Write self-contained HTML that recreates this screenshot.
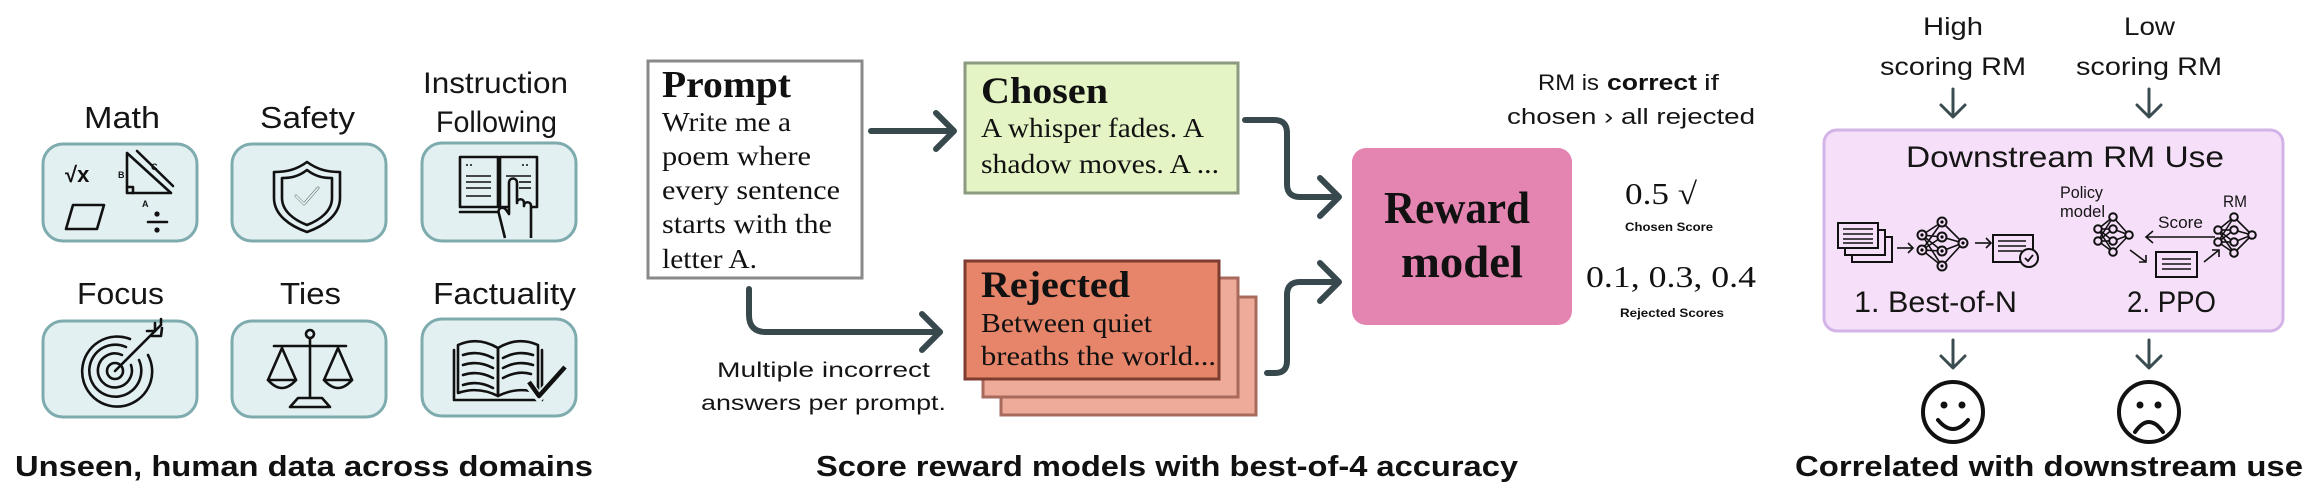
<!DOCTYPE html>
<html><head><meta charset="utf-8"><style>
html,body{margin:0;padding:0;background:#fff;}
svg{display:block;}
.s{font-family:"Liberation Sans",sans-serif;fill:#151515;}
.b{font-family:"Liberation Sans",sans-serif;font-weight:bold;fill:#111;}
.r{font-family:"Liberation Serif",serif;fill:#111;}
.rb{font-family:"Liberation Serif",serif;font-weight:bold;fill:#111;}
.ic{fill:none;stroke:#111;stroke-width:2.6;stroke-linecap:round;stroke-linejoin:round;}
.ar{fill:none;stroke:#37494d;stroke-width:6;stroke-linecap:round;stroke-linejoin:round;}
.ar2{fill:none;stroke:#3a4c4f;stroke-width:3;stroke-linecap:round;stroke-linejoin:round;}
.tb{fill:#e3f0f1;stroke:#7eabae;stroke-width:3;}
.nn{fill:#f6dff8;stroke:#111;stroke-width:2;}
.ln{stroke:#111;stroke-width:1.6;fill:none;}
</style></head><body>
<svg width="2320" height="502" viewBox="0 0 2320 502" xmlns="http://www.w3.org/2000/svg">
<rect width="2320" height="502" fill="#fff"/>

<!-- ============ LEFT PANEL ============ -->
<text class="s" x="84" y="128" font-size="31" textLength="76" lengthAdjust="spacingAndGlyphs">Math</text>
<text class="s" x="260" y="128" font-size="31" textLength="95" lengthAdjust="spacingAndGlyphs">Safety</text>
<text class="s" x="423" y="93" font-size="30" textLength="145" lengthAdjust="spacingAndGlyphs">Instruction</text>
<text class="s" x="436" y="132" font-size="30" textLength="121" lengthAdjust="spacingAndGlyphs">Following</text>
<text class="s" x="77" y="304" font-size="31" textLength="87" lengthAdjust="spacingAndGlyphs">Focus</text>
<text class="s" x="280" y="304" font-size="31" textLength="61" lengthAdjust="spacingAndGlyphs">Ties</text>
<text class="s" x="433" y="304" font-size="31" textLength="143" lengthAdjust="spacingAndGlyphs">Factuality</text>

<rect class="tb" x="43" y="144" width="154" height="97" rx="20"/>
<rect class="tb" x="232" y="144" width="154" height="97" rx="20"/>
<rect class="tb" x="422" y="143" width="154" height="98" rx="20"/>
<rect class="tb" x="43" y="321" width="154" height="96" rx="20"/>
<rect class="tb" x="232" y="321" width="154" height="96" rx="20"/>
<rect class="tb" x="422" y="319" width="154" height="97" rx="20"/>

<!-- Math icon -->
<text x="65" y="182" font-family="Liberation Sans,sans-serif" font-weight="bold" font-size="22" fill="#111">√x</text>
<polyline class="ic" points="127,153 127,193 171,193 127,153"/>
<polyline class="ic" points="127,187 133,187 133,193" stroke-width="1.8"/>
<line class="ic" x1="137" y1="151" x2="173" y2="186" stroke-width="2"/>
<text x="118" y="178" font-family="Liberation Sans,sans-serif" font-weight="bold" font-size="9" fill="#111">B</text>
<text x="151" y="170" font-family="Liberation Sans,sans-serif" font-weight="bold" font-size="9" fill="#111">C</text>
<text x="142" y="207" font-family="Liberation Sans,sans-serif" font-weight="bold" font-size="9" fill="#111">A</text>
<polygon class="ic" points="73,205 104,205 97,229 66,229" stroke-width="3"/>
<line class="ic" x1="148" y1="222" x2="167" y2="222" stroke-width="3"/>
<circle cx="157" cy="214" r="2.6" fill="#111"/>
<circle cx="157" cy="230" r="2.6" fill="#111"/>

<!-- Shield -->
<path class="ic" d="M307,162 C296,170 286,172 274,172 L274,198 C274,215 290,226 307,232 C324,226 340,215 340,198 L340,172 C328,172 318,170 307,162 Z"/>
<path class="ic" d="M307,170 C298,177 290,178 282,178 L282,198 C282,211 294,220 307,225 C320,220 332,211 332,198 L332,178 C324,178 316,177 307,170 Z"/>
<polyline class="ic" points="296,196 304,204 318,188" stroke-width="6"/>
<polyline points="296,196 304,204 318,188" fill="none" stroke="#e3f0f1" stroke-width="2" stroke-linecap="round" stroke-linejoin="round"/>

<!-- Instruction icon -->
<rect class="ic" x="460" y="157" width="38" height="50"/>
<rect class="ic" x="500" y="157" width="37" height="50"/>
<line class="ic" x1="460" y1="212" x2="500" y2="212"/>
<g class="ln" stroke-width="2.2">
<line x1="466" y1="165" x2="472" y2="165" stroke-dasharray="2 2"/>
<line x1="522" y1="165" x2="530" y2="165" stroke-dasharray="2 2"/>
<line x1="466" y1="176" x2="491" y2="176"/>
<line x1="466" y1="182" x2="491" y2="182"/>
<line x1="466" y1="188" x2="491" y2="188"/>
<line x1="466" y1="196" x2="491" y2="196"/>
<line x1="506" y1="176" x2="531" y2="176"/>
<line x1="519" y1="182" x2="531" y2="182"/>
<line x1="519" y1="188" x2="531" y2="188"/>
</g>
<path d="M505,238 L499,214 C497,208 503,205 507,211 L509,214 L509,183 C509,177 517,177 517,183 L517,203 C517,198 524,198 524,203 L524,206 C524,201 531,201 531,206 L531,238" fill="#e3f0f1" stroke="#111" stroke-width="2.6" stroke-linejoin="round"/>

<!-- Target -->
<g class="ic">
<path d="M148,355 A35,35 0 1,1 130,339"/>
<path d="M139,360 A26,26 0 1,1 126,347"/>
<path d="M131,365 A17,17 0 1,1 122,355"/>
<circle cx="115" cy="371" r="8"/>
<line x1="115" y1="371" x2="155" y2="331"/>
<polyline points="147,331 155,331 155,323"/>
<polyline points="152,336 161,336 162,328"/>
<polyline points="155,331 161,325 161,319"/>
</g>

<!-- Scales -->
<g class="ic">
<circle cx="310" cy="334" r="4"/>
<line x1="310" y1="338" x2="310" y2="397"/>
<line x1="274" y1="346" x2="346" y2="346"/>
<polyline points="282,348 268,380 296,380 282,348"/>
<path d="M268,380 Q282,396 296,380"/>
<polyline points="338,348 324,380 352,380 338,348"/>
<path d="M324,380 Q338,396 352,380"/>
<path d="M298,398 L322,398 L330,407 L290,407 Z"/>
</g>

<!-- Book with check -->
<g class="ic">
<path d="M458,345 Q478,336 498,348 L498,396 Q478,386 458,393 Z"/>
<path d="M498,348 Q518,336 538,345 L538,393 Q518,386 498,396 Z"/>
<polyline points="454,350 454,400 542,400 542,350"/>
<path d="M463,355 Q478,350 493,358"/>
<path d="M463,365 Q478,360 493,368"/>
<path d="M463,375 Q478,370 493,378"/>
<path d="M463,385 Q478,380 493,388"/>
<path d="M503,358 Q518,350 533,355"/>
<path d="M503,368 Q518,360 533,365"/>
<path d="M503,378 Q518,370 531,374"/>
</g>
<path d="M527,382 L539,397 L566,366" fill="none" stroke="#e3f0f1" stroke-width="9" stroke-linecap="round"/>
<path d="M529,382 L539,396 L565,367" fill="none" stroke="#111" stroke-width="4.5" stroke-linejoin="round"/>

<text class="b" x="15" y="476" font-size="29" textLength="578" lengthAdjust="spacingAndGlyphs">Unseen, human data across  domains</text>

<!-- ============ MIDDLE PANEL ============ -->
<rect x="648" y="61" width="214" height="217" fill="#fff" stroke="#8a8a8a" stroke-width="3"/>
<text class="rb" x="662" y="97" font-size="38" textLength="129" lengthAdjust="spacingAndGlyphs">Prompt</text>
<text class="r" x="662" y="131" font-size="27" textLength="129" lengthAdjust="spacingAndGlyphs">Write me a</text>
<text class="r" x="662" y="165" font-size="27" textLength="149" lengthAdjust="spacingAndGlyphs">poem where</text>
<text class="r" x="662" y="199" font-size="27" textLength="178" lengthAdjust="spacingAndGlyphs">every sentence</text>
<text class="r" x="662" y="233" font-size="27" textLength="170" lengthAdjust="spacingAndGlyphs">starts with the</text>
<text class="r" x="662" y="268" font-size="27" textLength="95" lengthAdjust="spacingAndGlyphs">letter A.</text>

<rect x="965" y="63" width="273" height="130" fill="#e4f4c4" stroke="#8c9a7f" stroke-width="3"/>
<text class="rb" x="981" y="103" font-size="37" textLength="127" lengthAdjust="spacingAndGlyphs">Chosen</text>
<text class="r" x="981" y="137" font-size="27" textLength="223" lengthAdjust="spacingAndGlyphs">A whisper fades. A</text>
<text class="r" x="981" y="173" font-size="27" textLength="238" lengthAdjust="spacingAndGlyphs">shadow moves. A ...</text>

<rect x="1001" y="297" width="255" height="118" fill="#efab99" stroke="#a76a5c" stroke-width="3"/>
<rect x="983" y="278" width="255" height="119" fill="#efab99" stroke="#a76a5c" stroke-width="3"/>
<rect x="965" y="261" width="254" height="118" fill="#e7856a" stroke="#7d3c2e" stroke-width="3"/>
<text class="rb" x="981" y="297" font-size="37" textLength="149" lengthAdjust="spacingAndGlyphs">Rejected</text>
<text class="r" x="981" y="332" font-size="27" textLength="171" lengthAdjust="spacingAndGlyphs">Between quiet</text>
<text class="r" x="981" y="365" font-size="27" textLength="235" lengthAdjust="spacingAndGlyphs">breaths the world...</text>

<!-- arrows -->
<line class="ar" x1="871" y1="131" x2="953" y2="131"/>
<polyline class="ar" points="936,113 954,131 936,149"/>
<path class="ar" d="M749,289 L749,315 Q749,332 766,332 L940,332"/>
<polyline class="ar" points="922,314 940,332 922,350"/>
<path class="ar" d="M1245,120 L1274,120 Q1287,120 1287,133 L1287,184 Q1287,197 1300,197 L1338,197"/>
<polyline class="ar" points="1320,178 1339,197 1320,216"/>
<path class="ar" d="M1267,373 L1275,373 Q1287,373 1287,361 L1287,295 Q1287,282 1300,282 L1338,282"/>
<polyline class="ar" points="1320,263 1339,282 1320,301"/>

<text class="s" x="717" y="377" font-size="21" textLength="213" lengthAdjust="spacingAndGlyphs">Multiple incorrect</text>
<text class="s" x="701" y="410" font-size="21" textLength="245" lengthAdjust="spacingAndGlyphs">answers per prompt.</text>

<rect x="1352" y="148" width="220" height="177" rx="14" fill="#e385b0"/>
<text class="rb" x="1384" y="223" font-size="45" textLength="146" lengthAdjust="spacingAndGlyphs">Reward</text>
<text class="rb" x="1401" y="277" font-size="45" textLength="122" lengthAdjust="spacingAndGlyphs">model</text>

<text class="s" x="1538" y="90" font-size="22" textLength="61" lengthAdjust="spacingAndGlyphs">RM is</text>
<text class="b" x="1607" y="90" font-size="22" textLength="90" lengthAdjust="spacingAndGlyphs">correct</text>
<text class="s" x="1704" y="90" font-size="22" textLength="15" lengthAdjust="spacingAndGlyphs">if</text>
<text class="s" x="1507" y="124" font-size="22" textLength="248" lengthAdjust="spacingAndGlyphs">chosen › all rejected</text>

<text class="r" x="1625" y="204" font-size="31" textLength="72" lengthAdjust="spacingAndGlyphs">0.5 √</text>
<text class="b" x="1625" y="231" font-size="12" textLength="88" lengthAdjust="spacingAndGlyphs">Chosen Score</text>
<text class="r" x="1586" y="287" font-size="31" textLength="170" lengthAdjust="spacingAndGlyphs">0.1, 0.3, 0.4</text>
<text class="b" x="1620" y="317" font-size="12" textLength="104" lengthAdjust="spacingAndGlyphs">Rejected Scores</text>

<text class="b" x="816" y="476" font-size="29" textLength="702" lengthAdjust="spacingAndGlyphs">Score reward models with best-of-4 accuracy</text>

<!-- ============ RIGHT PANEL ============ -->
<text class="s" x="1923" y="35" font-size="25" textLength="60" lengthAdjust="spacingAndGlyphs">High</text>
<text class="s" x="1880" y="75" font-size="25" textLength="146" lengthAdjust="spacingAndGlyphs">scoring RM</text>
<text class="s" x="2124" y="35" font-size="25" textLength="51" lengthAdjust="spacingAndGlyphs">Low</text>
<text class="s" x="2076" y="75" font-size="25" textLength="146" lengthAdjust="spacingAndGlyphs">scoring RM</text>

<g class="ar2">
<line x1="1953" y1="89" x2="1953" y2="116"/><polyline points="1941,105 1953,117 1965,105"/>
<line x1="2149" y1="89" x2="2149" y2="116"/><polyline points="2137,105 2149,117 2161,105"/>
<line x1="1953" y1="340" x2="1953" y2="367"/><polyline points="1941,356 1953,368 1965,356"/>
<line x1="2149" y1="340" x2="2149" y2="367"/><polyline points="2137,356 2149,368 2161,356"/>
</g>

<rect x="1824" y="130" width="459" height="201" rx="13" fill="#f6dff8" stroke="#d3b4e9" stroke-width="3"/>
<text class="s" x="1906" y="167" font-size="30" textLength="318" lengthAdjust="spacingAndGlyphs">Downstream RM Use</text>

<!-- Best-of-N icons -->
<rect class="nn" x="1852" y="237" width="40" height="25"/>
<rect class="nn" x="1845" y="230" width="40" height="25"/>
<rect class="nn" x="1838" y="223" width="40" height="25"/>
<g class="ln"><line x1="1843" y1="229" x2="1873" y2="229"/><line x1="1843" y1="234" x2="1873" y2="234"/><line x1="1843" y1="239" x2="1873" y2="239"/><line x1="1843" y1="243" x2="1873" y2="243"/></g>
<g class="ln" stroke-width="2"><line x1="1897" y1="248" x2="1913" y2="248"/><polyline points="1908,243 1913,248 1908,253"/>
<line x1="1975" y1="243" x2="1991" y2="243"/><polyline points="1986,238 1991,243 1986,248"/></g>
<g class="ln" stroke-width="2">
<line x1="1922" y1="235" x2="1942" y2="222"/><line x1="1922" y1="235" x2="1942" y2="237"/><line x1="1922" y1="235" x2="1942" y2="251"/><line x1="1922" y1="235" x2="1942" y2="266"/>
<line x1="1922" y1="250" x2="1942" y2="222"/><line x1="1922" y1="250" x2="1942" y2="237"/><line x1="1922" y1="250" x2="1942" y2="251"/><line x1="1922" y1="250" x2="1942" y2="266"/>
<line x1="1942" y1="222" x2="1963" y2="243"/><line x1="1942" y1="237" x2="1963" y2="243"/><line x1="1942" y1="251" x2="1963" y2="243"/><line x1="1942" y1="266" x2="1963" y2="243"/>
</g>
<g>
<circle class="nn" cx="1922" cy="235" r="4.5"/><circle class="nn" cx="1922" cy="250" r="4.5"/>
<circle class="nn" cx="1942" cy="222" r="4.5"/><circle class="nn" cx="1942" cy="237" r="4.5"/><circle class="nn" cx="1942" cy="251" r="4.5"/><circle class="nn" cx="1942" cy="266" r="4.5"/>
<circle class="nn" cx="1963" cy="243" r="4.5"/>
<circle cx="1922" cy="235" r="1.6"/><circle cx="1922" cy="250" r="1.6"/><circle cx="1942" cy="222" r="1.6"/><circle cx="1942" cy="237" r="1.6"/><circle cx="1942" cy="251" r="1.6"/><circle cx="1942" cy="266" r="1.6"/><circle cx="1963" cy="243" r="1.6"/>
</g>
<rect class="nn" x="1993" y="235" width="40" height="27"/>
<g class="ln"><line x1="1998" y1="241" x2="2026" y2="241"/><line x1="1998" y1="246" x2="2026" y2="246"/><line x1="1998" y1="251" x2="2022" y2="251"/></g>
<circle class="nn" cx="2029" cy="258" r="9"/>
<polyline points="2025,258 2028,261 2033,255" fill="none" stroke="#111" stroke-width="1.8"/>

<!-- PPO icons -->
<g class="ln" stroke-width="1.8">
<line x1="2098" y1="229" x2="2113" y2="217"/><line x1="2098" y1="229" x2="2113" y2="229"/><line x1="2098" y1="229" x2="2113" y2="241"/><line x1="2098" y1="229" x2="2113" y2="252"/>
<line x1="2098" y1="241" x2="2113" y2="217"/><line x1="2098" y1="241" x2="2113" y2="229"/><line x1="2098" y1="241" x2="2113" y2="241"/><line x1="2098" y1="241" x2="2113" y2="252"/>
<line x1="2113" y1="217" x2="2129" y2="235"/><line x1="2113" y1="229" x2="2129" y2="235"/><line x1="2113" y1="241" x2="2129" y2="235"/><line x1="2113" y1="252" x2="2129" y2="235"/>
<line x1="2218" y1="230" x2="2234" y2="217"/><line x1="2218" y1="230" x2="2234" y2="230"/><line x1="2218" y1="230" x2="2234" y2="242"/><line x1="2218" y1="230" x2="2234" y2="253"/>
<line x1="2218" y1="242" x2="2234" y2="217"/><line x1="2218" y1="242" x2="2234" y2="230"/><line x1="2218" y1="242" x2="2234" y2="242"/><line x1="2218" y1="242" x2="2234" y2="253"/>
<line x1="2234" y1="217" x2="2252" y2="235"/><line x1="2234" y1="230" x2="2252" y2="235"/><line x1="2234" y1="242" x2="2252" y2="235"/><line x1="2234" y1="253" x2="2252" y2="235"/>
</g>
<g>
<circle class="nn" cx="2098" cy="229" r="3.8"/><circle class="nn" cx="2098" cy="241" r="3.8"/>
<circle class="nn" cx="2113" cy="217" r="3.8"/><circle class="nn" cx="2113" cy="229" r="3.8"/><circle class="nn" cx="2113" cy="241" r="3.8"/><circle class="nn" cx="2113" cy="252" r="3.8"/>
<circle class="nn" cx="2129" cy="235" r="3.8"/>
<circle class="nn" cx="2218" cy="230" r="3.8"/><circle class="nn" cx="2218" cy="242" r="3.8"/>
<circle class="nn" cx="2234" cy="217" r="3.8"/><circle class="nn" cx="2234" cy="230" r="3.8"/><circle class="nn" cx="2234" cy="242" r="3.8"/><circle class="nn" cx="2234" cy="253" r="3.8"/>
<circle class="nn" cx="2252" cy="235" r="3.8"/>
</g>
<g class="ln" stroke-width="1.8">
<line x1="2215" y1="237" x2="2146" y2="237"/><polyline points="2153,231 2146,237 2153,243"/>
<line x1="2130" y1="250" x2="2146" y2="262"/><polyline points="2139,262 2146,262 2146,255"/>
<line x1="2204" y1="262" x2="2219" y2="250"/><polyline points="2212,250 2219,250 2219,257"/>
</g>
<rect class="nn" x="2156" y="252" width="41" height="25"/>
<g class="ln"><line x1="2162" y1="259" x2="2191" y2="259"/><line x1="2162" y1="264" x2="2191" y2="264"/><line x1="2162" y1="269" x2="2191" y2="269"/></g>

<text class="s" x="2060" y="198" font-size="17" textLength="43" lengthAdjust="spacingAndGlyphs">Policy</text>
<text class="s" x="2060" y="217" font-size="17" textLength="45" lengthAdjust="spacingAndGlyphs">model</text>
<text class="s" x="2223" y="207" font-size="17" textLength="24" lengthAdjust="spacingAndGlyphs">RM</text>
<text class="s" x="2158" y="228" font-size="17" textLength="45" lengthAdjust="spacingAndGlyphs">Score</text>

<text class="s" x="1854" y="312" font-size="30" textLength="163" lengthAdjust="spacingAndGlyphs">1. Best-of-N</text>
<text class="s" x="2127" y="312" font-size="30" textLength="89" lengthAdjust="spacingAndGlyphs">2. PPO</text>

<!-- Smileys -->
<circle cx="1953" cy="412" r="30" fill="none" stroke="#111" stroke-width="4"/>
<circle cx="1944" cy="405" r="3.5" fill="#111"/><circle cx="1962" cy="405" r="3.5" fill="#111"/>
<path d="M1938,420 Q1953,438 1968,420" fill="none" stroke="#111" stroke-width="4" stroke-linecap="round"/>
<circle cx="2149" cy="412" r="30" fill="none" stroke="#111" stroke-width="4"/>
<circle cx="2140" cy="405" r="3.5" fill="#111"/><circle cx="2158" cy="405" r="3.5" fill="#111"/>
<path d="M2135,432 Q2149,412 2163,432" fill="none" stroke="#111" stroke-width="4" stroke-linecap="round"/>

<text class="b" x="1795" y="476" font-size="29" textLength="508" lengthAdjust="spacingAndGlyphs">Correlated with downstream use</text>
</svg>
</body></html>
